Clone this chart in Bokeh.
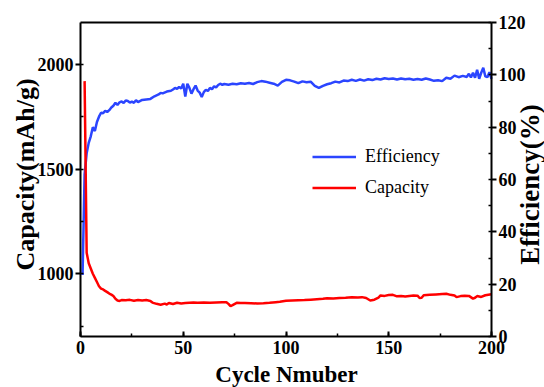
import math
from bokeh.plotting import figure
from bokeh.models import (Range1d, LinearAxis, SingleIntervalTicker, FixedTicker,
                          Legend, LegendItem, Label, ColumnDataSource)
from bokeh.embed import file_html
from bokeh.resources import INLINE

# ---------------- data ----------------
eff_cycle = [1, 2, 3, 4, 5, 6, 7, 8, 9, 10, 11, 12, 13, 14, 15, 16, 17, 18, 19, 20,
             21, 22, 23, 24, 25, 26, 27, 28, 30, 32, 34, 36, 38, 39, 40, 42, 44, 45,
             46, 47, 48, 49, 50, 51, 52, 53, 54, 55, 56, 57, 58, 59, 60, 61, 62, 63,
             64, 65, 66, 67, 68, 69, 70, 72, 74, 76, 78, 80, 82, 84, 86, 88, 90, 92,
             94, 96, 98, 100, 102, 104, 106, 108, 110, 112, 114, 116, 118, 120, 122,
             124, 126, 128, 130, 132, 134, 136, 138, 140, 142, 144, 146, 148, 150,
             152, 154, 156, 158, 160, 162, 164, 166, 168, 170, 172, 174, 176, 178,
             180, 182, 184, 186, 188, 189, 190, 191, 192, 193, 194, 195, 196, 197,
             198, 199, 200]
efficiency = [23.5, 62, 70, 74, 76.5, 80, 78.5, 82, 84, 85.5, 85.3, 86.2, 85.8, 86.5,
              87.5, 88.2, 89.3, 88.5, 89.5, 89.8, 89.2, 90.2, 90.0, 89.4, 89.8, 89.3,
              90.3, 89.6, 90.4, 90.6, 90.8, 91.8, 92.5, 93.1, 92.9, 93.6, 93.9, 94.4,
              95.0, 94.6, 95.4, 94.8, 96.6, 91.7, 96.6, 95.0, 92.8, 94.5, 95.9, 94.0,
              93.2, 91.5, 93.4, 94.3, 93.8, 95.0, 94.5, 95.6, 95.2, 96.1, 96.6, 96.2,
              96.5, 96.2, 96.6, 96.4, 96.8, 96.6, 96.9, 96.5, 97.2, 97.6, 97.4, 97.0,
              96.6, 95.9, 97.3, 98.1, 97.9, 97.4, 96.8, 97.5, 97.2, 97.4, 95.8, 95.0,
              95.8, 96.4, 96.8, 97.4, 97.1, 97.8, 97.6, 98.1, 97.7, 98.2, 97.8, 98.3,
              98.0, 98.5, 98.2, 98.7, 98.4, 98.6, 98.2, 98.6, 98.3, 98.5, 98.1, 98.4,
              98.1, 98.6, 98.2, 97.7, 97.9, 97.6, 98.9, 98.5, 99.7, 99.1, 99.6, 99.2,
              100.4, 99.0, 100.8, 98.9, 101.9, 98.5, 100.8, 102.7, 99.4, 99.1, 101.0,
              98.5]

cap_cycle = [2, 3, 4, 5, 6, 7, 8, 9, 10, 11, 12, 13, 14, 15, 16, 17, 18, 19, 20, 22,
             24, 26, 28, 30, 32, 34, 35, 37, 39, 41, 42, 43, 45, 47, 49, 51, 53, 55,
             57, 60, 63, 66, 69, 71, 72, 73, 74, 76, 78, 80, 83, 86, 89, 92, 95, 97,
             100, 103, 106, 109, 112, 115, 118, 120, 123, 126, 129, 132, 135, 137,
             139, 141, 143, 145, 146, 148, 150, 152, 154, 156, 158, 160, 162, 164,
             165, 166, 167, 170, 173, 176, 178, 180, 182, 183, 185, 187, 189, 191,
             192, 193, 195, 197, 200]
capacity = [1920, 1100, 1050, 1025, 1000, 980, 960, 940, 929, 925, 918, 912, 905, 900,
            893, 880, 872, 870, 874, 873, 875, 871, 874, 872, 874, 870, 862, 856, 852,
            857, 853, 860, 855, 861, 858, 860, 861, 862, 861, 862, 861, 863, 864, 864,
            856, 845, 850, 861, 860, 860, 859, 858, 859, 861, 864, 866, 871, 872, 873,
            874, 876, 878, 880, 883, 881, 884, 885, 887, 886, 888, 884, 872, 876, 886,
            896, 894, 898, 899, 892, 893, 891, 894, 896, 895, 884, 885, 897, 899, 901,
            903, 904, 899, 896, 888, 893, 895, 894, 881, 885, 893, 889, 897, 902]

X_MIN, X_MAX = 0, 200          # cycle axis extent
CAP_MIN, CAP_MAX = 700, 2200   # left axis extent
EFF_MIN, EFF_MAX = 0, 120      # right axis extent

x_label = "Cycle Nmuber"
cap_label = "Capacity(mAh/g)"
eff_label = "Efficiency(%)"

# ---------------- layout (pixels) ----------------
# The plotting frame covers the whole canvas; the four axes are pinned with
# fixed_location so that their labels and the axis titles are never clipped.
W, H = 544, 387
AX_L, AX_R, AX_T, AX_B = 80, 491, 22, 336   # axis-box edges on the canvas

def stretch(lo, hi, px_lo, px_hi, canvas_lo, canvas_hi):
    k = (hi - lo) / (px_hi - px_lo)
    return lo - (px_lo - canvas_lo) * k, hi + (canvas_hi - px_hi) * k

x_rng = stretch(X_MIN, X_MAX, AX_L, AX_R, 0, W)
cap_rng = stretch(CAP_MIN, CAP_MAX, H - AX_B, H - AX_T, 0, H)
eff_rng = stretch(EFF_MIN, EFF_MAX, H - AX_B, H - AX_T, 0, H)

FONT = "Liberation Serif"
BLUE = "#2b45ff"
RED = "#ff0000"

p = figure(width=W, height=H, output_backend="svg", toolbar_location=None,
           x_range=Range1d(*x_rng), y_range=Range1d(*cap_rng),
           x_axis_location=None, y_axis_location=None,
           min_border_left=0, min_border_right=0, min_border_top=0,
           min_border_bottom=0)
p.xgrid.visible = False
p.ygrid.visible = False
p.outline_line_color = None
p.background_fill_color = "white"
p.border_fill_color = "white"

p.extra_y_ranges = {"eff": Range1d(*eff_rng)}

eff_src = ColumnDataSource(dict(x=eff_cycle, y=efficiency))
cap_src = ColumnDataSource(dict(x=cap_cycle, y=capacity))

r_eff = p.line("x", "y", source=eff_src, y_range_name="eff", line_color=BLUE,
               line_width=2.5)
r_cap = p.line("x", "y", source=cap_src, line_color=RED, line_width=2.5)

def style_axis(ax):
    ax.axis_line_width = 2
    ax.axis_line_color = "black"
    ax.major_tick_line_width = 2
    ax.minor_tick_line_width = 1.5
    ax.major_label_text_font = FONT
    ax.major_label_text_font_style = "bold"
    ax.major_label_text_font_size = "18px"
    ax.major_label_text_color = "black"

# bottom axis
xa = LinearAxis(fixed_location=CAP_MIN, bounds=(X_MIN, X_MAX),
                ticker=SingleIntervalTicker(interval=50, num_minor_ticks=2))
xa.major_tick_in = 5
xa.major_tick_out = 0
xa.minor_tick_in = 3
xa.minor_tick_out = 0
xa.major_label_standoff = 4
style_axis(xa)
p.add_layout(xa, "below")

# top frame line
ta = LinearAxis(fixed_location=CAP_MAX, bounds=(X_MIN, X_MAX),
                ticker=FixedTicker(ticks=[]))
ta.axis_line_width = 2
ta.major_tick_in = 0
ta.major_tick_out = 0
ta.minor_tick_in = 0
ta.minor_tick_out = 0
ta.major_label_text_font_size = "0px"
p.add_layout(ta, "above")

# left axis
ya = LinearAxis(fixed_location=X_MIN, bounds=(CAP_MIN, CAP_MAX),
                ticker=SingleIntervalTicker(interval=500, num_minor_ticks=2))
ya.major_tick_in = 0
ya.major_tick_out = 5
ya.minor_tick_in = 3
ya.minor_tick_out = 0
ya.major_label_standoff = 2
style_axis(ya)
p.add_layout(ya, "left")

# right axis
ra = LinearAxis(y_range_name="eff", fixed_location=X_MAX,
                bounds=(EFF_MIN, EFF_MAX),
                ticker=SingleIntervalTicker(interval=20, num_minor_ticks=2))
ra.major_tick_in = 0
ra.major_tick_out = 5
ra.minor_tick_in = 3
ra.minor_tick_out = 0
ra.major_label_standoff = 2
style_axis(ra)
p.add_layout(ra, "right")

# axis titles (screen units = canvas pixels, y measured from the bottom)
def title(text, x, y, size, angle=0.0):
    p.add_layout(Label(x=x, y=y, x_units="screen", y_units="screen",
                       text=text, angle=angle, text_align="center",
                       text_baseline="middle", text_font=FONT,
                       text_font_style="bold", text_font_size=size,
                       text_color="black"))

title(cap_label, 25, H - 174, "26px", angle=math.pi / 2)
title(eff_label, 529, H - 184, "27px", angle=math.pi / 2)
title(x_label, 286, H - 374, "23px")

legend = Legend(items=[LegendItem(label="Efficiency", renderers=[r_eff]),
                       LegendItem(label="Capacity", renderers=[r_cap])],
                location=(312, H - 198), orientation="vertical",
                padding=0, margin=0, spacing=10,
                glyph_width=44, glyph_height=21, label_height=21,
                label_standoff=9,
                label_text_font=FONT, label_text_font_size="18px",
                label_text_color="black",
                border_line_alpha=0, background_fill_alpha=0)
p.add_layout(legend)

open("out.html", "w").write(file_html(p, INLINE))
